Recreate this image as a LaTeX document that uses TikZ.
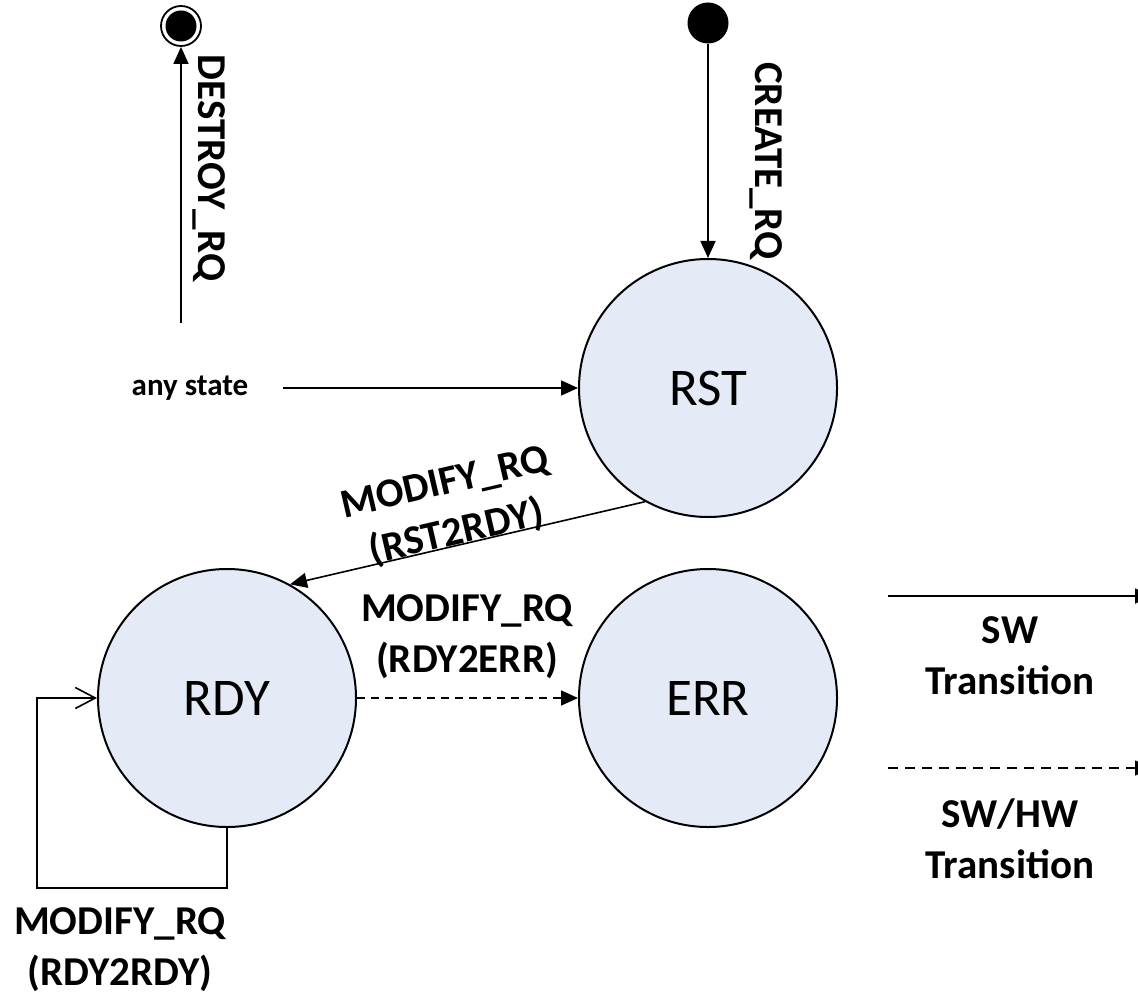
\documentclass[tikz,border=0pt]{standalone}
\usepackage{fontspec}
\setmainfont{Carlito}
\usetikzlibrary{arrows.meta}
\definecolor{statefill}{RGB}{228,235,247}
\begin{document}
\begin{tikzpicture}[x=0.5pt,y=-0.5pt,
  state/.style={circle, draw=black, line width=1pt, fill=statefill, minimum size=129pt, inner sep=0pt, font=\fontsize{26.5}{30}\selectfont},
  lbl/.style={font=\fontsize{20.5}{25.5}\selectfont\bfseries, align=center, inner sep=0pt},
  conn/.style={line width=0.8pt},
  tri/.style={-{Triangle[length=8.5pt,width=7.5pt]}},
  barb/.style={-{Straight Barb[length=10pt,width=10.5pt,line width=0.8pt]}},
  dashA/.style={dash pattern=on 4pt off 3pt},
  dashB/.style={dash pattern=on 5pt off 3.5pt}
]
\useasboundingbox (0,0) rectangle (1138,994);
\clip (0,0) rectangle (1138,994);

% states
\node[state] (rst) at (708,388) {RST};
\node[state] (rdy) at (227,698) {RDY};
\node[state] (err) at (708,698) {ERR};

% pseudo states
\node[circle, draw=black, line width=0.9pt, minimum size=20pt, inner sep=0pt] (fin) at (181,26) {};
\node[circle, fill=black, minimum size=15.5pt, inner sep=0pt] (findot) at (fin.center) {};
\node[circle, fill=black, minimum size=20.5pt, inner sep=0pt] (init) at (708,23) {};

% coordinates
\coordinate (dstart) at (181,323);
\coordinate (astart) at (283,388);
\coordinate (lp) at (37,888);
\coordinate (sw1) at (888,596);
\coordinate (sw2) at (1152,596);
\coordinate (hw1) at (888,768);
\coordinate (hw2) at (1152,768);

% labels
\node[lbl, rotate=-90] (ldestroy) at (209,168) {DESTROY\_RQ};
\node[lbl, rotate=-90] (lcreate) at (766,161) {CREATE\_RQ};
\node[lbl, font=\fontsize{15.5}{18}\selectfont\bfseries] (anystate) at (190,388) {any state};
\node[lbl, rotate=13] (lrst2rdy) at (451,509) {MODIFY\_RQ\\(RST2RDY)};
\node[lbl] (lrdy2err) at (467,637) {MODIFY\_RQ\\(RDY2ERR)};
\node[lbl] (lrdy2rdy) at (120,950) {MODIFY\_RQ\\(RDY2RDY)};
\node[lbl] (lsw) at (1010,656) {SW\\Transition};
\node[lbl] (lhw) at (1010,839) {SW/HW\\Transition};

% connectors
\draw[conn, tri] (dstart) -- (fin.south);
\draw[conn, tri] (init) -- (rst.north);
\draw[conn, tri] (astart) -- (rst.west);
\draw[conn, tri] (rst.241) -- (rdy.61);
\draw[conn, tri, dashA] (rdy.east) -- (err.west);
\draw[conn, barb] (rdy.south) |- (lp) |- (rdy.west);

% legend
\draw[conn, tri] (sw1) -- (sw2);
\draw[conn, tri, dashB] (hw1) -- (hw2);
\end{tikzpicture}
\end{document}
